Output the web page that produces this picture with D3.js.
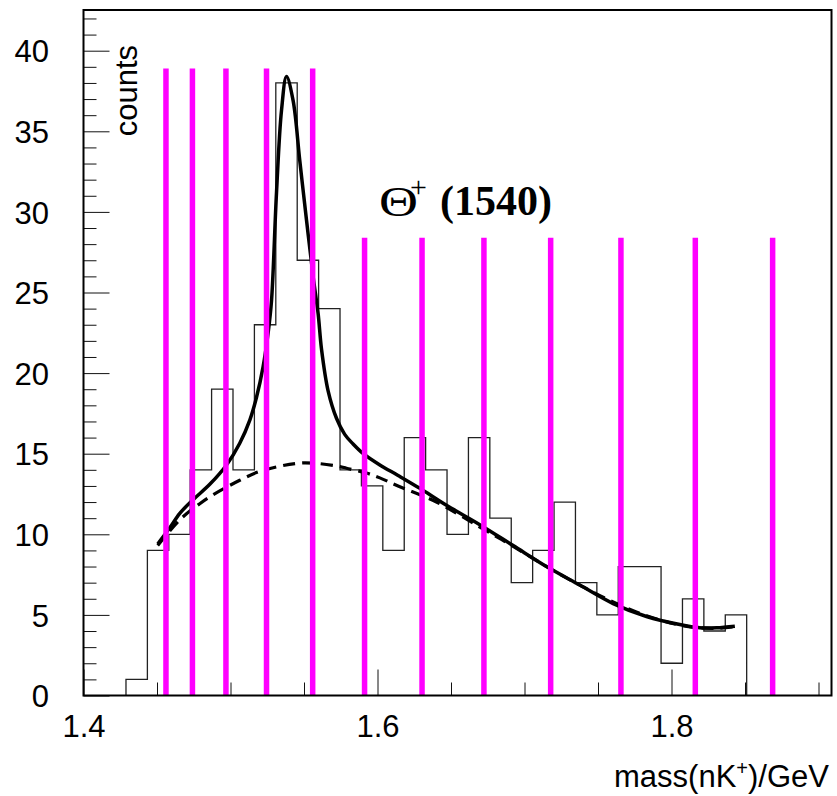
<!DOCTYPE html>
<html><head><meta charset="utf-8">
<script src="https://cdn.jsdelivr.net/npm/d3@7/dist/d3.min.js"></script>
<style>body{margin:0;background:#fff}svg{display:block}</style>
</head><body>
<svg id="c" width="837" height="796"></svg>
<script>
// ---- data ----
const binStart = 1.4289;
const binWidth = 0.01456;
const counts = [1, 9, 10, 14, 19, 14, 23, 38, 27, 24, 14, 13, 9, 16, 14, 10, 16, 11, 7, 9, 12, 7, 5, 8, 8, 2, 6, 4, 5];

const fitMass  = [1.4505, 1.4587, 1.4655, 1.4746, 1.4859, 1.4973, 1.5063, 1.5132, 1.5177, 1.5222, 1.5256, 1.5279, 1.5313, 1.5347, 1.5381, 1.5426, 1.5471, 1.5517, 1.5562, 1.5596, 1.5619, 1.5664, 1.5721, 1.5777, 1.5834, 1.5903, 1.6016, 1.6140, 1.6288, 1.6469, 1.6696, 1.6923, 1.7150, 1.7376, 1.7603, 1.7830, 1.8056, 1.8192, 1.8306, 1.8431];
const fitValue = [9.4, 10.4, 11.3, 12.15, 13.1, 14.3, 15.65, 17.1, 18.5, 20.4, 22.5, 24.5, 31.2, 36.3, 38.4, 36.9, 33.2, 29.5, 26.0, 23.7, 21.5, 18.9, 17.2, 16.2, 15.6, 15.0, 14.3, 13.65, 12.85, 11.8, 10.6, 9.3, 8.0, 6.85, 5.7, 4.9, 4.4, 4.2, 4.2, 4.3];

const bgMass  = [1.4505, 1.4655, 1.4791, 1.4882, 1.5063, 1.5199, 1.5449, 1.5585, 1.5744, 1.5789, 1.5925, 1.6016, 1.6140, 1.6401, 1.6696, 1.6923, 1.7150, 1.7376, 1.7603, 1.7830, 1.8056, 1.8192, 1.8306, 1.8431];
const bgValue = [9.3, 10.9, 11.9, 12.45, 13.35, 13.9, 14.4, 14.4, 14.2, 14.1, 13.8, 13.5, 13.0, 12.0, 10.45, 9.25, 8.0, 6.85, 5.8, 4.95, 4.37, 4.2, 4.17, 4.27];

const tallLineMass = [1.4561, 1.4741, 1.4969, 1.5245, 1.5559];
const tallLineTop = 38.9;
const shortLineMass = [1.5912, 1.6303, 1.6724, 1.7178, 1.7656, 1.8162, 1.8688];
const shortLineTop = 28.4;

const xMajorTicks = [1.4, 1.6, 1.8];
const xMinorTicks = [1.45, 1.5, 1.55, 1.65, 1.7, 1.75, 1.85, 1.9];
const yMajorTicks = [0, 5, 10, 15, 20, 25, 30, 35, 40];
const yMinorTicks = d3.range(0, 43, 1);

const yTitle = "counts";
const xTitleMain = "mass(nK";
const xTitleSup = "+";
const xTitleEnd = ")/GeV";
const peakLabelSymbol = "\u0398";
const peakLabelSup = "+";
const peakLabelText = "(1540)";

// ---- layout ----
const svg = d3.select("#c");
const L = 83.5, R = 831.5, T = 10, B = 695.5;
const x = d3.scaleLinear().domain([1.4, 1.4 + (R - L) / 1470]).range([L, R]);
const y = d3.scaleLinear().domain([0, (B - T) / 16.12]).range([B, T]);
const sans = "'Liberation Sans', Arial, Helvetica, sans-serif";
const serif = "'Liberation Serif', 'Times New Roman', Times, serif";
const FS = 31;

// histogram
const histPts = [[binStart, 0]];
counts.forEach((c, i) => {
  histPts.push([binStart + i * binWidth, c]);
  histPts.push([binStart + (i + 1) * binWidth, c]);
});
histPts.push([binStart + counts.length * binWidth, 0]);
const line = d3.line().x(d => x(d[0])).y(d => y(d[1]));
svg.append("path").attr("d", line(histPts)).attr("fill", "none")
  .attr("stroke", "#222").attr("stroke-width", 1.3);

// background (dashed) and fit (solid)
const smooth = d3.line().x(d => x(d[0])).y(d => y(d[1])).curve(d3.curveCatmullRom.alpha(0.5));
svg.append("path").attr("d", smooth(bgMass.map((m, i) => [m, bgValue[i]])))
  .attr("fill", "none").attr("stroke", "#000").attr("stroke-width", 3.2)
  .attr("stroke-dasharray", "12,7");
svg.append("path").attr("d", smooth(fitMass.map((m, i) => [m, fitValue[i]])))
  .attr("fill", "none").attr("stroke", "#000").attr("stroke-width", 3.5);

// magenta lines
const mg = svg.append("g").attr("stroke", "#ff00ff").attr("stroke-width", 5.5);
tallLineMass.forEach(m => mg.append("line").attr("x1", x(m)).attr("x2", x(m)).attr("y1", y(0)).attr("y2", y(tallLineTop)));
shortLineMass.forEach(m => mg.append("line").attr("x1", x(m)).attr("x2", x(m)).attr("y1", y(0)).attr("y2", y(shortLineTop)));

// ticks (inside)
const yMinor = svg.append("g").attr("transform", `translate(${L},0)`)
  .call(d3.axisRight(y).tickValues(yMinorTicks.filter(v => v % 5 !== 0)).tickSize(13).tickFormat(""));
const yMajor = svg.append("g").attr("transform", `translate(${L},0)`)
  .call(d3.axisRight(y).tickValues(yMajorTicks).tickSize(26).tickFormat(""));
const xMinor = svg.append("g").attr("transform", `translate(0,${B})`)
  .call(d3.axisTop(x).tickValues(xMinorTicks).tickSize(13).tickFormat(""));
const xMajor = svg.append("g").attr("transform", `translate(0,${B})`)
  .call(d3.axisTop(x).tickValues(xMajorTicks).tickSize(26).tickFormat(""));
[yMinor, yMajor, xMinor, xMajor].forEach(g => {
  g.select(".domain").remove();
  g.selectAll("line").attr("stroke", "#111").attr("stroke-width", 1);
});

// tick labels
const yLab = svg.append("g").attr("transform", `translate(${L},0)`)
  .call(d3.axisLeft(y).tickValues(yMajorTicks).tickSize(0).tickPadding(L - 49).tickFormat(d3.format("d")));
const xLab = svg.append("g").attr("transform", `translate(0,${B})`)
  .call(d3.axisBottom(x).tickValues(xMajorTicks).tickSize(0).tickPadding(19.5).tickFormat(d3.format(".1f")));
[yLab, xLab].forEach(g => {
  g.select(".domain").remove();
  g.selectAll("text").attr("font-family", sans).attr("font-size", FS).attr("fill", "#000");
});
yLab.selectAll("text").attr("dy", "0.36em");

// frame
svg.append("rect").attr("x", L).attr("y", T).attr("width", R - L).attr("height", B - T)
  .attr("fill", "none").attr("stroke", "#000").attr("stroke-width", 2);

// axis titles
svg.append("text").attr("transform", "translate(137,45) rotate(-90)")
  .attr("text-anchor", "end").attr("font-family", sans).attr("font-size", FS).text(yTitle);
const xt = svg.append("text").attr("x", 829).attr("y", 787).attr("text-anchor", "end")
  .attr("font-family", sans).attr("font-size", FS);
xt.append("tspan").text(xTitleMain);
xt.append("tspan").attr("dy", -12).attr("font-size", 20).text(xTitleSup);
xt.append("tspan").attr("dy", 12).text(xTitleEnd);

// peak label
svg.append("text").attr("x", 379).attr("y", 216).attr("font-family", serif)
  .attr("font-size", 42).attr("textLength", 39).attr("lengthAdjust", "spacingAndGlyphs").text(peakLabelSymbol);
svg.append("text").attr("x", 410).attr("y", 197).attr("font-family", serif)
  .attr("font-size", 30).text(peakLabelSup);
svg.append("text").attr("x", 440).attr("y", 215).attr("font-family", serif)
  .attr("font-weight", "bold").attr("font-size", 42).text(peakLabelText);
</script>
</body></html>
